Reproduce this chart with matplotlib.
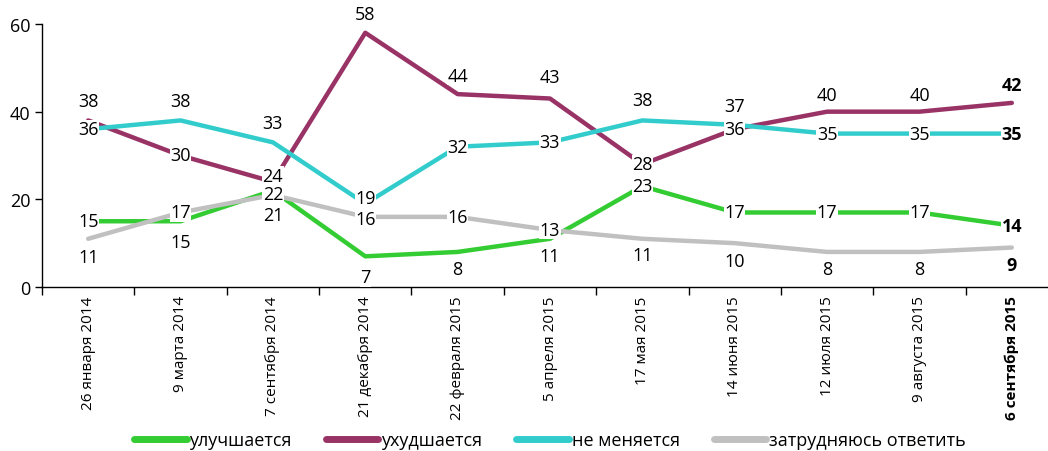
import matplotlib
matplotlib.use("Agg")
import matplotlib.pyplot as plt
from matplotlib.font_manager import fontManager

# pick a narrow face if there is one
names = {f.name for f in fontManager.ttflist}
base = "Liberation Sans Narrow" if "Liberation Sans Narrow" in names else "Open Sans"
plt.rcParams['font.family'] = [base, 'DejaVu Sans']

dates = ['26 января 2014', '9 марта 2014', '7 сентября 2014', '21 декабря 2014',
         '22 февраля 2015', '5 апреля 2015', '17 мая 2015', '14 июня 2015',
         '12 июля 2015', '9 августа 2015', '6 сентября 2015']

better = [15, 15, 22, 7, 8, 11, 23, 17, 17, 17, 14]
worse = [38, 30, 24, 58, 44, 43, 28, 36, 40, 40, 42]
same = [36, 38, 33, 19, 32, 33, 38, 37, 35, 35, 35]
unsure = [11, 17, 21, 16, 16, 13, 11, 10, 8, 8, 9]

names_ru = ['улучшается', 'ухудшается', 'не меняется', 'затрудняюсь ответить']
colors = ['#33cc33', '#993366', '#33cccc', '#c0c0c0']

# label offsets (pixels, up is positive) for each series
off_better = [0, -21, -3, -21, -17, -17, 0, 0, 0, 0, 0]
off_worse = [19, 0, 6, 19, 18, 22, 0, 0, 17, 17, 18]
off_same = [0, 19, 19, 6, 0, 0, 20, 19, 0, 0, 0]
off_unsure = [-18, 0, -20, -2, 0, 0, -16, -18, -17, -17, -17]

fig = plt.figure(figsize=(10.48, 4.52), dpi=100)
ax = fig.add_axes([42 / 1048, 164 / 452, 1016 / 1048, 263 / 452])

x = range(len(dates))
series = [better, worse, same, unsure]
offsets = [off_better, off_worse, off_same, off_unsure]
order = [3, 0, 2, 1]
for k in order:
    ax.plot(x, series[k], color=colors[k], lw=3.2, solid_capstyle='round',
            zorder=2 + k * 0.1, label=names_ru[k])

last = len(dates) - 1
for k in range(4):
    for i, v in enumerate(series[k]):
        ax.annotate(str(v), (i, v), xytext=(0, offsets[k][i]),
                    textcoords='offset pixels', ha='center', va='center',
                    fontsize=13, fontweight='bold' if i == last else 'normal',
                    bbox=dict(boxstyle='square,pad=0.02', fc='white', ec='none'),
                    zorder=5)

ax.set_xlim(-0.5, len(dates) - 0.5)
ax.set_ylim(0, 60)
ax.set_yticks([0, 20, 40, 60])
ax.tick_params(axis='y', labelsize=13, length=5, width=1)

ax.set_xticks([i - 0.5 for i in range(len(dates) + 1)])
ax.set_xticklabels([])
ax.tick_params(axis='x', which='major', length=6, width=1, direction='out')
ax.set_xticks(list(x), minor=True)
ax.set_xticklabels(dates, minor=True, rotation=90, fontsize=11)
ax.tick_params(axis='x', which='minor', length=0, pad=6)
ax.get_xticklabels(minor=True)[last].set_fontweight('bold')

for s in ['top', 'right']:
    ax.spines[s].set_visible(False)
for s in ['left', 'bottom']:
    ax.spines[s].set_linewidth(1)

handles, labels = ax.get_legend_handles_labels()
hmap = dict(zip(labels, handles))
leg = fig.legend([hmap[n] for n in names_ru], names_ru, loc='center',
                 bbox_to_anchor=(550 / 1048, 1 - 441 / 452), ncol=4, frameon=False,
                 fontsize=13, handlelength=2.9, handletextpad=0.15,
                 columnspacing=1.9)
for h in leg.get_lines():
    h.set_linewidth(5)
    h.set_solid_capstyle('round')

fig.savefig('out.png', dpi=100)
